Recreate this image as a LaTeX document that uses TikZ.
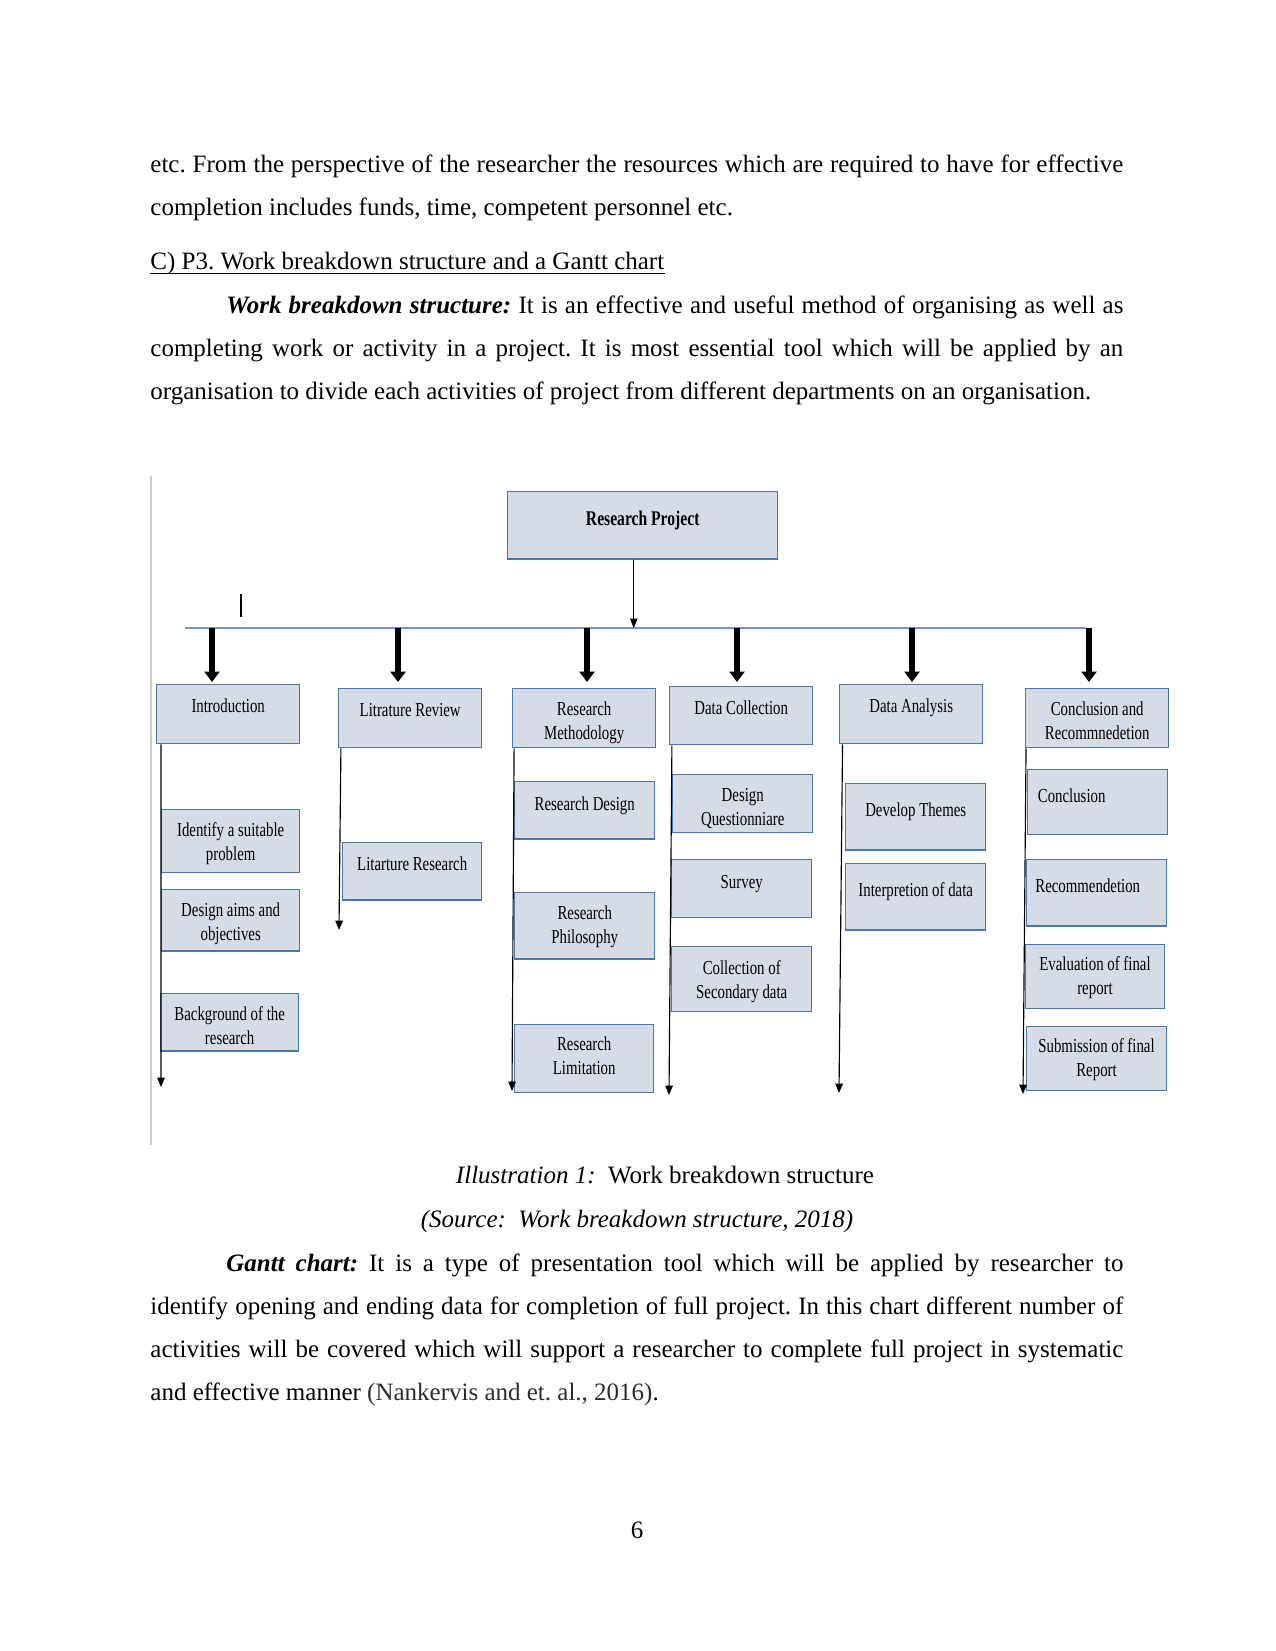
\documentclass[tikz,border=0pt]{standalone}
\usepackage{fontspec}
\setmainfont{Liberation Serif}
\newfontfamily\wbsfont[FakeStretch=0.75]{Liberation Serif}
\usetikzlibrary{arrows.meta,positioning}
\definecolor{boxfill}{RGB}{214,220,229}
\definecolor{boxedge}{RGB}{74,118,168}
\definecolor{barblue}{RGB}{110,150,200}
\definecolor{pagerule}{RGB}{204,204,204}
\definecolor{citegray}{RGB}{45,45,45}
\frenchspacing

\begin{document}
\begin{tikzpicture}[x=0.48pt, y=-0.48pt,
    wbsbox/.style={rectangle, draw=boxedge, line width=0.7pt, fill=boxfill,
        anchor=north west, inner sep=0pt},
    wbstext/.style={inner sep=0pt, align=center,
        font=\wbsfont\fontsize{9.5}{11.5}\selectfont},
    thinarr/.style={-{Triangle[length=4.5pt, width=3.6pt]}, line width=0.55pt, black},
    thickarr/.style={-{Triangle[length=5pt, width=7.2pt]}, line width=3.2pt, black},
    bodyline/.style={anchor=base west, inner sep=0pt, font=\fontsize{12}{14}\selectfont},
    bodymid/.style={anchor=base, inner sep=0pt, font=\fontsize{12}{14}\selectfont}
]
    \useasboundingbox (0,0) rectangle (1275,1651);
    \fill[white] (0,0) rectangle (1275,1651);

    % Text above the figure
    \node[bodyline] (p1a) at (150,173) {\makebox[467pt][s]{etc. From the perspective of the researcher the resources which are required to have for effective}};
    \node[bodyline] (p1b) at (150,216) {completion includes funds, time, competent personnel etc.};
    \node[bodyline] (head) at (150,270) {C) P3. Work breakdown structure and a Gantt chart};
    \draw[line width=0.5pt] ([yshift=-1.5pt]head.base west) -- ([yshift=-1.5pt]head.base east);
    \node[bodyline] (p2a) at (226,313) {\makebox[430.6pt][s]{\textbf{\textit{Work breakdown structure:}} It is an effective and useful method of organising as well as}};
    \node[bodyline] (p2b) at (150,356) {\makebox[467pt][s]{completing work or activity in a project. It is most essential tool which will be applied by an}};
    \node[bodyline] (p2c) at (150,399) {organisation to divide each activities of project from different departments on an organisation.};

    % Figure frame rule and stray tick
    \draw[pagerule, line width=1pt] (151,476) -- (151,1145);
    \draw[line width=0.5pt] (241,594) -- (241,617);

    % Root
    \node[wbsbox, minimum width=129.6pt, minimum height=32.2pt] (rp) at (507,491) {};
    \node[wbstext, font=\wbsfont\fontsize{10}{12}\selectfont\bfseries, below=9.5pt of rp.north] (rp-t) {Research Project};

    \coordinate (bar-l) at (185,628);
    \coordinate (bar-r) at (1086,628);
    \draw[barblue, line width=0.7pt] (bar-l) -- (bar-r);
    \draw[thinarr] ([xshift=-4.3pt]rp.south) -- ([xshift=-4.3pt]rp.south |- bar-l);

    % Main phases
    \node[wbsbox, minimum width=68.6pt, minimum height=28.3pt] (intro) at (156,684) {};
    \node[wbstext, below=7pt of intro.north] (intro-t) {Introduction};
    \node[wbsbox, minimum width=68.6pt, minimum height=28.3pt] (lit) at (338,688) {};
    \node[wbstext, below=7pt of lit.north] (lit-t) {Litrature Review};
    \node[wbsbox, minimum width=68.6pt, minimum height=28.3pt] (rm) at (512,688) {};
    \node[wbstext, below=6.5pt of rm.north] (rm-t) {Research\\Methodology};
    \node[wbsbox, minimum width=68.6pt, minimum height=27.8pt] (dc) at (669,686) {};
    \node[wbstext, below=7pt of dc.north] (dc-t) {Data Collection};
    \node[wbsbox, minimum width=68.6pt, minimum height=28.3pt] (da) at (839,684) {};
    \node[wbstext, below=7pt of da.north] (da-t) {Data Analysis};
    \node[wbsbox, minimum width=68.6pt, minimum height=28.3pt] (cr) at (1025,688) {};
    \node[wbstext, below=6.5pt of cr.north] (cr-t) {Conclusion and\\Recommnedetion};

    \coordinate (tip1) at (212,682);
    \coordinate (tip2) at (398,682);
    \coordinate (tip3) at (587,682);
    \coordinate (tip4) at (737,682);
    \coordinate (tip5) at (912,682);
    \coordinate (tip6) at (1089,682);
    \foreach \t in {tip1,tip2,tip3,tip4,tip5,tip6}
        \draw[thickarr] (\t |- bar-l) -- (\t);

    % Introduction tasks
    \node[wbsbox, minimum width=66.2pt, minimum height=30.2pt] (idp) at (161,809) {};
    \node[wbstext, below=6.3pt of idp.north] (idp-t) {Identify a suitable\\problem};
    \node[wbsbox, minimum width=66.2pt, minimum height=29.3pt] (dao) at (161,889) {};
    \node[wbstext, below=6.3pt of dao.north] (dao-t) {Design aims and\\objectives};
    \node[wbsbox, minimum width=66.2pt, minimum height=27.4pt] (bgr) at (160,993) {};
    \node[wbstext, below=6.3pt of bgr.north] (bgr-t) {Background of the\\research};

    % Literature tasks
    \node[wbsbox, minimum width=66.7pt, minimum height=27.4pt] (ltr) at (342,842) {};
    \node[wbstext, below=6.8pt of ltr.north] (ltr-t) {Litarture Research};

    % Methodology tasks
    \node[wbsbox, minimum width=67.2pt, minimum height=27.4pt] (rdes) at (514,781) {};
    \node[wbstext, below=7.2pt of rdes.north] (rdes-t) {Research Design};
    \node[wbsbox, minimum width=67.2pt, minimum height=31.7pt] (rphil) at (514,892) {};
    \node[wbstext, below=6.3pt of rphil.north] (rphil-t) {Research\\Philosophy};
    \node[wbsbox, minimum width=66.7pt, minimum height=32.6pt] (rlim) at (514,1024) {};
    \node[wbstext, below=5.8pt of rlim.north] (rlim-t) {Research\\Limitation};

    % Data collection tasks
    \node[wbsbox, minimum width=67.2pt, minimum height=27.8pt] (dq) at (672,774) {};
    \node[wbstext, below=6.8pt of dq.north] (dq-t) {Design\\Questionniare};
    \node[wbsbox, minimum width=67.2pt, minimum height=27.8pt] (sur) at (671,859) {};
    \node[wbstext, below=7.7pt of sur.north] (sur-t) {Survey};
    \node[wbsbox, minimum width=67.2pt, minimum height=31.2pt] (csd) at (671,946) {};
    \node[wbstext, below=6.8pt of csd.north] (csd-t) {Collection of\\Secondary data};

    % Data analysis tasks
    \node[wbsbox, minimum width=67.2pt, minimum height=31.7pt] (dth) at (845,783) {};
    \node[wbstext, below=9.1pt of dth.north] (dth-t) {Develop Themes};
    \node[wbsbox, minimum width=67.2pt, minimum height=31.7pt] (itp) at (845,863) {};
    \node[wbstext, below=9.1pt of itp.north] (itp-t) {Interpretion of data};

    % Conclusion tasks
    \node[wbsbox, minimum width=67.2pt, minimum height=31.2pt] (con) at (1027,769) {};
    \node[wbstext, anchor=north west, below right=9.1pt and 5pt of con.north west] (con-t) {Conclusion};
    \node[wbsbox, minimum width=67pt, minimum height=31.7pt] (rec) at (1026,859) {};
    \node[wbstext, anchor=north west, below right=9.1pt and 4.3pt of rec.north west] (rec-t) {Recommendetion};
    \node[wbsbox, minimum width=66.5pt, minimum height=30.7pt] (evl) at (1025,944) {};
    \node[wbstext, below=5.8pt of evl.north] (evl-t) {Evaluation of final\\report};
    \node[wbsbox, minimum width=67pt, minimum height=30.7pt] (sub) at (1026,1026) {};
    \node[wbstext, below=5.8pt of sub.north] (sub-t) {Submission of final\\Report};

    % Down arrows along each column
    \coordinate (intro-end) at (161,1087);
    \coordinate (lit-end) at (339,930);
    \coordinate (rm-end) at (512,1091);
    \coordinate (dc-end) at (669,1095);
    \coordinate (da-end) at (839,1093);
    \coordinate (cr-end) at (1023,1094);
    \draw[thinarr] ([xshift=2.4pt]intro.south west) -- (intro-end);
    \draw[thinarr] ([xshift=1.4pt]lit.south west) -- (lit-end);
    \draw[thinarr] ([xshift=1pt]rm.south west) -- (rm-end);
    \draw[thinarr] ([xshift=1.4pt]dc.south west) -- (dc-end);
    \draw[thinarr] ([xshift=1.7pt]da.south west) -- (da-end);
    \draw[thinarr] ([xshift=0.5pt]cr.south west) -- (cr-end);

    % Caption and text below the figure
    \node[bodymid] (cap) at (665,1183) {\textit{Illustration 1:}\ \ Work breakdown structure};
    \node[bodymid] (src) at (637,1227) {\textit{(Source:\ \ Work breakdown structure, 2018)}};
    \node[bodyline] (p3a) at (226,1271) {\makebox[430.6pt][s]{\textbf{\textit{Gantt chart:}} It is a type of presentation tool which will be applied by researcher to}};
    \node[bodyline] (p3b) at (150,1314) {\makebox[467pt][s]{identify opening and ending data for completion of full project. In this chart different number of}};
    \node[bodyline] (p3c) at (150,1357) {\makebox[467pt][s]{activities will be covered which will support a researcher to complete full project in systematic}};
    \node[bodyline] (p3d) at (150,1400) {and effective manner \textcolor{citegray}{(Nankervis and et. al., 2016)}.};
    \node[bodymid] (pgno) at (637,1538) {6};
\end{tikzpicture}
\end{document}
